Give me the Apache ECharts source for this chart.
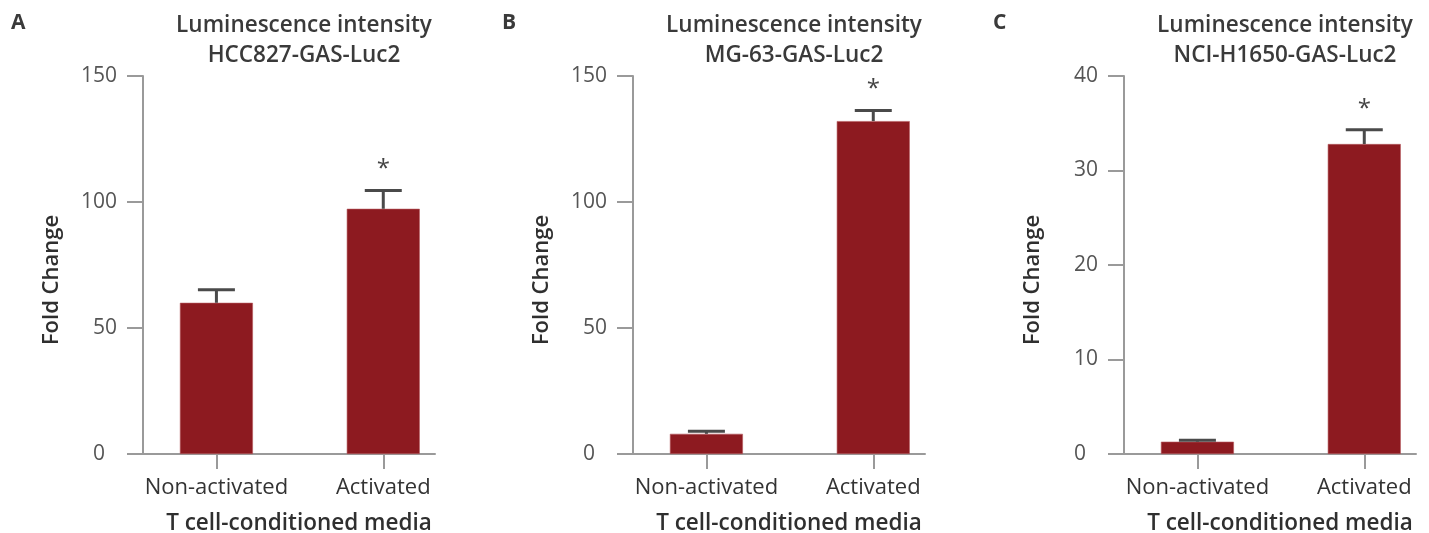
<!DOCTYPE html>
<html>
<head>
<meta charset="utf-8">
<script src="https://cdn.jsdelivr.net/npm/echarts@6/dist/echarts.min.js"></script>
<style>
html,body{margin:0;padding:0;background:#fff;}
#chart{width:1429px;height:533px;}
</style>
</head>
<body>
<div id="chart"></div>
<script>
// ---- data ----
var categories = ['Non-activated', 'Activated'];
var panelLetters = ['A', 'B', 'C'];
var cellLines = ['HCC827-GAS-Luc2', 'MG-63-GAS-Luc2', 'NCI-H1650-GAS-Luc2'];
var valuesA = [60, 97.3];
var errorsA = [5.2, 7.3];
var valuesB = [8.0, 132.1];
var errorsB = [1.0, 4.2];
var valuesC = [1.3, 32.8];
var errorsC = [0.15, 1.5];
var significant = [false, true];
var yMax = [150, 150, 40];
var yStep = [50, 50, 10];
var titleLine1 = 'Luminescence intensity';
var yName = 'Fold Change';
var xName = 'T cell-conditioned media';

var values = [valuesA, valuesB, valuesC];
var errors = [errorsA, errorsB, errorsC];

// ---- layout / style ----
var gridLeft = [143, 633, 1124];
var gridWidth = 292;
var gridTop = 76;
var gridHeight = 378;
var FONT = '"Open Sans"';
var barColor = '#8d1a20';
var axisColor = '#9a9a9a';
var errColor = '#4a4a4a';

var grids = [], xAxes = [], yAxes = [], series = [], titles = [];

for (var i = 0; i < 3; i++) {
  grids.push({left: gridLeft[i], top: gridTop, width: gridWidth, height: gridHeight,
    containLabel: false, outerBoundsMode: 'none'});
  xAxes.push({
    type: 'value', gridIndex: i, min: -0.44, max: 1.31,
    splitLine: {show: false},
    axisLine: {show: true, onZero: false, lineStyle: {color: axisColor, width: 2}},
    axisTick: {show: true, length: 15, lineStyle: {color: axisColor, width: 2}, customValues: [0, 1]},
    axisLabel: {
      customValues: [0, 1], margin: 23,
      formatter: function (v) { return categories[Math.round(v)]; },
      fontFamily: FONT, fontSize: 22, color: '#333'
    },
    name: xName, nameLocation: 'middle', nameGap: 58,
    nameTextStyle: {fontFamily: FONT, fontWeight: 600, fontSize: 22.5, color: '#2f2f2f', padding: [0, 0, 0, 20]}
  });
  yAxes.push({
    type: 'value', gridIndex: i, min: 0, max: yMax[i], interval: yStep[i],
    splitLine: {show: false},
    axisLine: {show: true, onZero: false, lineStyle: {color: axisColor, width: 2}},
    axisTick: {show: true, length: 16, lineStyle: {color: axisColor, width: 2}},
    axisLabel: {
      margin: 26, fontFamily: FONT, fontSize: 21, color: '#555',
      formatter: function (v) { return v === 0 ? '{z|0}' : String(v); },
      rich: {z: {fontFamily: FONT, fontSize: 21, color: '#555', padding: [0, 12, 0, 0]}}
    },
    name: yName, nameLocation: 'middle', nameRotate: 90, nameGap: 80,
    nameTextStyle: {fontFamily: FONT, fontWeight: 600, fontSize: 22, color: '#2f2f2f', padding: [0, 30, 0, 0]}
  });

  var barData = [], errData = [];
  for (var j = 0; j < categories.length; j++) {
    barData.push([j, values[i][j]]);
    errData.push([j, values[i][j], errors[i][j], significant[j] ? 1 : 0]);
  }
  series.push({
    type: 'bar', xAxisIndex: i, yAxisIndex: i, data: barData, barWidth: 73,
    itemStyle: {color: barColor, borderColor: '#b5595e', borderWidth: 0.6},
    silent: true, z: 2
  });
  series.push({
    type: 'custom', xAxisIndex: i, yAxisIndex: i, data: errData, z: 3, silent: true,
    renderItem: function (params, api) {
      var x = api.value(0), v = api.value(1), e = api.value(2), sig = api.value(3);
      var base = api.coord([x, v]);
      var top = api.coord([x, v + e]);
      var children = [
        {type: 'line', shape: {x1: base[0], y1: base[1], x2: top[0], y2: top[1]}, style: {stroke: errColor, lineWidth: 3}},
        {type: 'line', shape: {x1: top[0] - 18.5, y1: top[1], x2: top[0] + 18.5, y2: top[1]}, style: {stroke: errColor, lineWidth: 3}}
      ];
      if (sig) {
        children.push({type: 'text', style: {text: '*', x: top[0], y: top[1] - 21, align: 'center', verticalAlign: 'middle',
          fontFamily: FONT, fontSize: 24, fill: '#444'}});
      }
      return {type: 'group', children: children};
    }
  });

  titles.push({
    text: titleLine1 + '\n' + cellLines[i],
    left: gridLeft[i] + gridWidth / 2 + 10, top: 6, textAlign: 'center',
    textStyle: {fontFamily: FONT, fontWeight: 600, fontSize: 22.5, lineHeight: 30, color: '#3a3a3a'}
  });
  titles.push({
    text: panelLetters[i], left: [6, 497, 988][i], top: 8,
    textStyle: {fontFamily: FONT, fontWeight: 'bold', fontSize: 21, color: '#3a3a3a'}
  });
}

var chart = echarts.init(document.getElementById('chart'), null, {renderer: 'canvas'});
chart.setOption({
  animation: false,
  backgroundColor: '#fff',
  title: titles,
  grid: grids,
  xAxis: xAxes,
  yAxis: yAxes,
  series: series
});
</script>
</body>
</html>
